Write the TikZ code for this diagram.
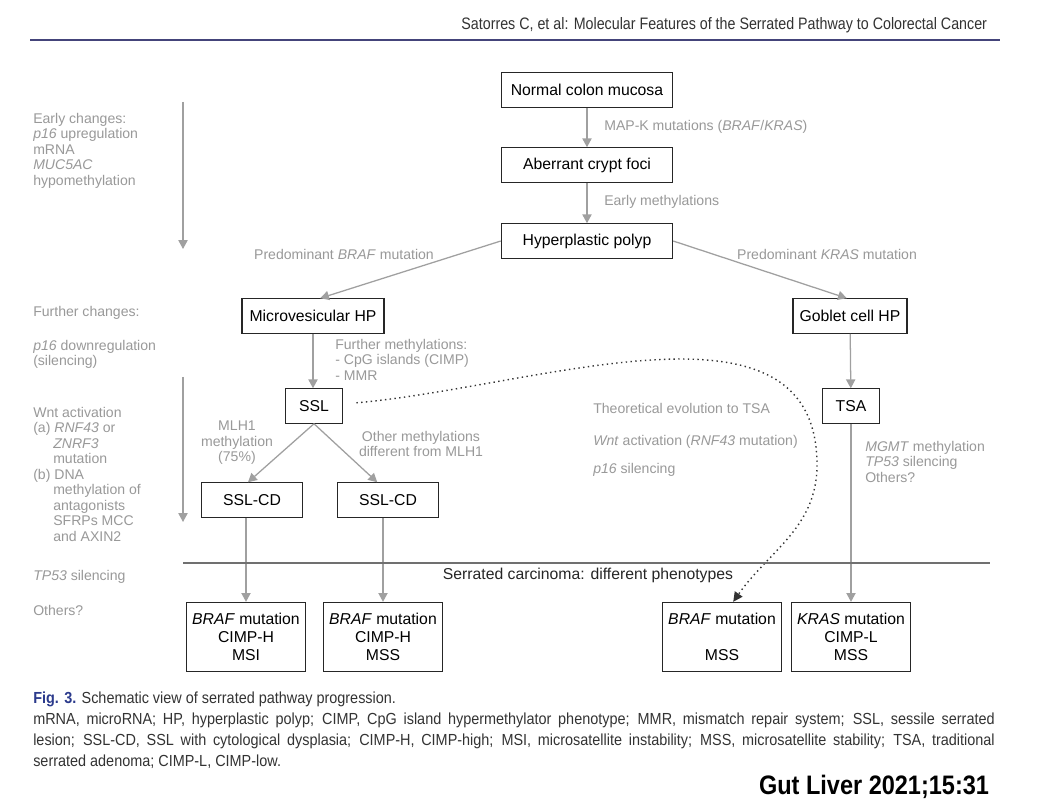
\documentclass[tikz,border=0pt]{standalone}
\usepackage{fontspec}
\setmainfont{Liberation Sans}
\newfontfamily\narrowfont[FakeStretch=0.9]{Liberation Sans}
\newfontfamily\headfont[FakeStretch=0.86]{Liberation Sans}
\newfontfamily\journalfont[FakeStretch=0.88]{Liberation Sans}
\usepackage{tikz}
\usetikzlibrary{arrows.meta, positioning}
\definecolor{labelgray}{HTML}{999999}
\definecolor{linegray}{HTML}{A0A0A0}
\definecolor{rulegray}{HTML}{707070}
\definecolor{headblue}{HTML}{44447A}
\definecolor{figblue}{HTML}{2B3A8C}

\begin{document}
\begin{tikzpicture}[x=0.025cm, y=-0.025cm, font=\fontsize{11.2}{12.8}\selectfont, stage/.style={draw=black!85, line width=0.8pt, fill=white, minimum height=0.86cm, inner sep=2pt, align=center}, result/.style={stage, minimum width=2.98cm, minimum height=1.73cm}, note/.style={text=labelgray, font=\fontsize{10}{11}\selectfont, align=left, inner sep=0pt}, flow/.style={draw=linegray, line width=0.9pt, -{Triangle[length=2.2mm, width=2.3mm]}}, theory/.style={draw=black!80, line width=1pt, dash pattern=on 1pt off 2.4pt, -{Triangle[length=2.4mm, width=2.3mm]}}]
\useasboundingbox (0,0) rectangle (1040,806);
\fill[white] (0,0) rectangle (1040,806);
\node[anchor=east, font=\headfont\fontsize{11.8}{14}\selectfont, text=black!80] (runhead) at (992,25) {Satorres C, et al: Molecular Features of the Serrated Pathway to Colorectal Cancer};
\draw[headblue, line width=0.8pt] (30,40) -- (1000,40);
% left column
\coordinate (early top) at (183,102); \coordinate (early end) at (183,249); \coordinate (late top) at (183,377); \coordinate (late end) at (183,522);
\draw[flow] (early top) -- (early end); \draw[flow] (late top) -- (late end);
\node[note, anchor=north west] (early) at (33,113) {Early changes:\\\textit{p16} upregulation\\mRNA\\\textit{MUC5AC}\\hypomethylation};
\node[note, anchor=west] (further) at (33,313) {Further changes:};
\node[note, anchor=north west] (p16down) at (33,340) {\textit{p16} downregulation\\(silencing)};
\node[note, anchor=north west] (wnt) at (33,407) {Wnt activation\\(a) \textit{RNF43} or\\\hspace*{0.5cm}\textit{ZNRF3}\\\hspace*{0.5cm}mutation\\(b) DNA\\\hspace*{0.5cm}methylation of\\\hspace*{0.5cm}antagonists\\\hspace*{0.5cm}SFRPs MCC\\\hspace*{0.5cm}and AXIN2};
\node[note, anchor=west] (tp53) at (33,577) {\textit{TP53} silencing};
\node[note, anchor=west] (others) at (33,610) {Others?};
% pathway boxes
\node[stage, minimum width=4.28cm] (normal) at (587,90) {Normal colon mucosa};
\node[stage, minimum width=4.28cm] (acf) at (587,165) {Aberrant crypt foci};
\node[stage, minimum width=4.28cm] (hyper) at (587,241) {Hyperplastic polyp};
\node[stage, minimum width=3.55cm] (micro) at (313,316) {Microvesicular HP};
\node[stage, minimum width=2.85cm] (goblet) at (850,316) {Goblet cell HP};
\node[stage, minimum width=1.43cm] (ssl) at (314,406) {SSL};
\node[stage, minimum width=1.43cm] (tsa) at (851,406) {TSA};
\node[stage, minimum width=2.53cm] (cdl) at (252,500) {SSL-CD};
\node[stage, minimum width=2.53cm] (cdr) at (388,500) {SSL-CD};
\node[result] (msi) at (246,637) {\textit{BRAF} mutation\\CIMP-H\\MSI};
\node[result] (mssh) at (383,637) {\textit{BRAF} mutation\\CIMP-H\\MSS};
\node[result] (mssb) at (722,637) {\textit{BRAF} mutation\\\mbox{}\\MSS};
\node[result] (mssl) at (851,637) {\textit{KRAS} mutation\\CIMP-L\\MSS};
% labels
\node[note, anchor=west] (mapk) at (604,127) {MAP-K mutations (\textit{BRAF}/\textit{KRAS})};
\node[note, anchor=west] (earlymeth) at (604,202) {Early methylations};
\node[note] (brafpred) at (344,254) {Predominant \textit{BRAF} mutation};
\node[note] (kraspred) at (827,254) {Predominant \textit{KRAS} mutation};
\node[note, anchor=north west] (furthermeth) at (335,339) {Further methylations:\\- CpG islands (CIMP)\\- MMR};
\node[note, align=center] (mlh1) at (237,443) {MLH1\\methylation\\(75\%)};
\node[note, align=center] (othermeth) at (421,444) {Other methylations\\different from MLH1};
\node[note, anchor=west] (theoretical) at (593,408) {Theoretical evolution to TSA};
\node[note, anchor=west] (wntrnf) at (593,442) {\textit{Wnt} activation (\textit{RNF43} mutation)};
\node[note, anchor=west] (p16sil) at (593,470) {\textit{p16} silencing};
\node[note, anchor=north west] (mgmt) at (865,441) {\textit{MGMT} methylation\\\textit{TP53} silencing\\Others?};
% connectors
\draw[flow] (normal) -- (acf); \draw[flow] (acf) -- (hyper);
\draw[flow] (hyper.west) -- ([xshift=0.18cm]micro.north); \draw[flow] (hyper.east) -- ([xshift=-0.08cm]goblet.north);
\draw[flow] (micro.south) -- (micro.south |- ssl.north); \draw[flow] (goblet) -- (tsa);
\draw[flow] (ssl.south) -- ([xshift=-0.1cm]cdl.north); \draw[flow] (ssl.south) -- ([xshift=-0.27cm]cdr.north);
\draw[flow] (cdl.south -| msi.north) -- (msi.north); \draw[flow] (cdr.south -| mssh.north) -- (mssh.north);
\draw[flow] (tsa) -- (mssl);
\draw[theory] ([xshift=0.33cm, yshift=0.08cm]ssl.east) to[out=5, in=90] (817,465) to[out=-90, in=55] ([xshift=0.28cm]mssb.north);
% carcinoma line
\draw[rulegray, line width=1pt] (183,563) -- (990,563);
\node[text=black!85] (carcinoma) at (588,575) {Serrated carcinoma: different phenotypes};
% caption
\node[anchor=north west, text width=24.03cm, align=justify, inner sep=0pt, font=\narrowfont\fontsize{11.4}{14.9}\selectfont, text=black!80] (caption) at (33,692) {\textcolor{figblue}{\textbf{Fig. 3.}} Schematic view of serrated pathway progression.\\mRNA, microRNA; HP, hyperplastic polyp; CIMP, CpG island hypermethylator phenotype; MMR, mismatch repair system; SSL, sessile serrated\linebreak lesion; SSL-CD, SSL with cytological dysplasia; CIMP-H, CIMP-high; MSI, microsatellite instability; MSS, microsatellite stability; TSA, traditional\linebreak serrated adenoma; CIMP-L, CIMP-low.};
\node[anchor=east, font=\journalfont\bfseries\fontsize{19}{22}\selectfont] (journal) at (994,787) {Gut Liver 2021;15:31};
\end{tikzpicture}
\end{document}
